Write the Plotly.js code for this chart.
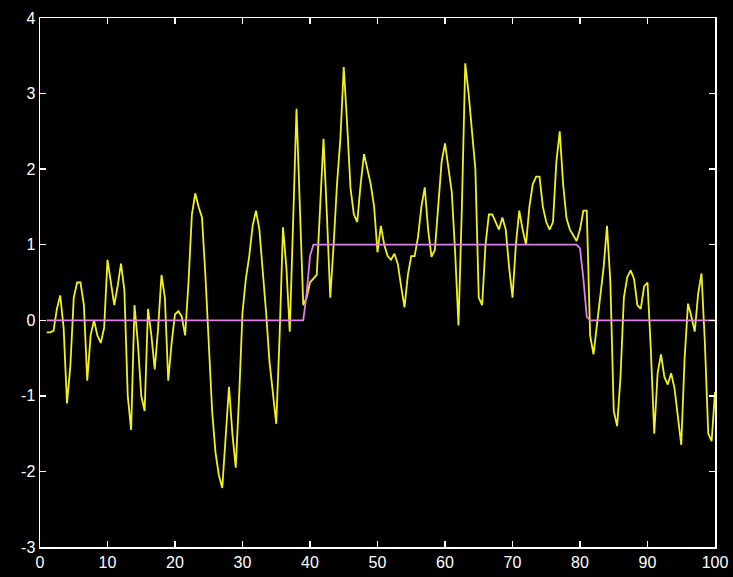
<!DOCTYPE html>
<html>
<head>
<meta charset="utf-8">
<script src="https://cdn.plot.ly/plotly-3.0.1.min.js"></script>
<style>
html,body{margin:0;padding:0;background:#000;}
#chart{width:733px;height:577px;}
</style>
</head>
<body>
<div id="chart"></div>
<script>
// sample positions
const xValues = [
  1,1.5,2,2.5,3,3.5,4,4.5,5,5.5,6,6.5,7,7.5,8,8.5,9,9.5,10,10.5,
  11,11.5,12,12.5,13,13.5,14,14.5,15,15.5,16,16.5,17,17.5,18,18.5,19,19.5,20,20.5,
  21,21.5,22,22.5,23,23.5,24,24.5,25,25.5,26,26.5,27,27.5,28,28.5,29,29.5,30,30.5,
  31,31.5,32,32.5,33,33.5,34,34.5,35,35.5,36,36.5,37,37.5,38,38.5,39,39.5,40,40.5,
  41,41.5,42,42.5,43,43.5,44,44.5,45,45.5,46,46.5,47,47.5,48,48.5,49,49.5,50,50.5,
  51,51.5,52,52.5,53,53.5,54,54.5,55,55.5,56,56.5,57,57.5,58,58.5,59,59.5,60,60.5,
  61,61.5,62,62.5,63,63.5,64,64.5,65,65.5,66,66.5,67,67.5,68,68.5,69,69.5,70,70.5,
  71,71.5,72,72.5,73,73.5,74,74.5,75,75.5,76,76.5,77,77.5,78,78.5,79,79.5,80,80.5,
  81,81.5,82,82.5,83,83.5,84,84.5,85,85.5,86,86.5,87,87.5,88,88.5,89,89.5,90,90.5,
  91,91.5,92,92.5,93,93.5,94,94.5,95,95.5,96,96.5,97,97.5,98,98.5,99,99.5,100
];
// noisy measured signal (yellow)
const noisySignal = [
  -0.16,-0.16,-0.14,0.15,0.33,-0.1,-1.1,-0.6,0.3,0.5,0.5,0.2,-0.8,-0.2,0.0,-0.2,-0.3,-0.1,0.8,0.5,
  0.2,0.45,0.75,0.4,-1.0,-1.45,0.2,-0.3,-1.0,-1.2,0.15,-0.2,-0.65,-0.1,0.6,0.3,-0.8,-0.3,0.08,0.12,
  0.05,-0.2,0.5,1.4,1.68,1.5,1.36,0.6,-0.3,-1.2,-1.75,-2.05,-2.22,-1.5,-0.88,-1.5,-1.95,-1.0,0.1,0.55,
  0.85,1.25,1.45,1.2,0.7,0.1,-0.55,-1.0,-1.37,-0.2,1.23,0.7,-0.15,1.3,2.8,1.5,0.2,0.3,0.5,0.55,
  0.6,1.5,2.4,1.4,0.3,1.0,1.8,2.4,3.35,2.6,1.75,1.4,1.3,1.8,2.2,2.0,1.8,1.5,0.9,1.25,
  1.0,0.85,0.8,0.88,0.75,0.45,0.17,0.6,0.85,0.85,1.1,1.5,1.76,1.2,0.84,0.93,1.5,2.1,2.34,2.05,
  1.7,0.9,-0.07,1.5,3.4,3.0,2.5,2.0,0.3,0.2,1.0,1.4,1.4,1.3,1.2,1.36,1.2,0.7,0.3,1.0,
  1.45,1.2,1.0,1.5,1.8,1.9,1.9,1.5,1.3,1.2,1.3,2.1,2.5,1.8,1.35,1.2,1.12,1.05,1.2,1.45,
  1.45,-0.2,-0.45,-0.05,0.3,0.7,1.25,0.5,-1.2,-1.4,-0.75,0.3,0.57,0.66,0.55,0.2,0.15,0.45,0.5,-0.4,
  -1.5,-0.7,-0.45,-0.75,-0.85,-0.7,-0.9,-1.3,-1.65,-0.5,0.22,0.05,-0.15,0.35,0.62,-0.3,-1.5,-1.6,-0.95
];
// underlying step signal (magenta)
const stepSignal = [
  0,0,0,0,0,0,0,0,0,0,0,0,0,0,0,0,0,0,0,0,
  0,0,0,0,0,0,0,0,0,0,0,0,0,0,0,0,0,0,0,0,
  0,0,0,0,0,0,0,0,0,0,0,0,0,0,0,0,0,0,0,0,
  0,0,0,0,0,0,0,0,0,0,0,0,0,0,0,0,0,0.35,0.85,1,
  1,1,1,1,1,1,1,1,1,1,1,1,1,1,1,1,1,1,1,1,
  1,1,1,1,1,1,1,1,1,1,1,1,1,1,1,1,1,1,1,1,
  1,1,1,1,1,1,1,1,1,1,1,1,1,1,1,1,1,1,1,1,
  1,1,1,1,1,1,1,1,1,1,1,1,1,1,1,1,1,1,0.95,0.55,
  0.05,0,0,0,0,0,0,0,0,0,0,0,0,0,0,0,0,0,0,0,
  0,0,0,0,0,0,0,0,0,0,0,0,0,0,0,0,0,0,0
];
const xTicks = [0,10,20,30,40,50,60,70,80,90,100];
const yTicks = [-3,-2,-1,0,1,2,3,4];

const traces = [
  {x: xValues, y: noisySignal, type: 'scatter', mode: 'lines',
   line: {color: '#f2f21a', width: 1.8}, hoverinfo: 'skip'},
  {x: xValues, y: stepSignal, type: 'scatter', mode: 'lines',
   line: {color: '#e27ee8', width: 1.8}, hoverinfo: 'skip'}
];

const axisCommon = {
  showgrid: false, zeroline: false,
  showline: true, linecolor: '#ffffff', linewidth: 1.5,
  mirror: 'ticks', ticks: 'inside', ticklen: 6, tickwidth: 1.5, tickcolor: '#ffffff',
  tickfont: {family: 'Liberation Sans, Arial, sans-serif', size: 16, color: '#ffffff'}
};

const layout = {
  width: 733, height: 577,
  paper_bgcolor: '#000000', plot_bgcolor: '#000000',
  margin: {l: 40, r: 18, t: 18, b: 30},
  showlegend: false,
  xaxis: Object.assign({}, axisCommon, {range: [0, 100], tickvals: xTicks, ticktext: xTicks.map(String)}),
  yaxis: Object.assign({}, axisCommon, {range: [-3, 4], tickvals: yTicks, ticktext: yTicks.map(String)})
};

Plotly.newPlot('chart', traces, layout, {staticPlot: true, displayModeBar: false});
</script>
</body>
</html>
